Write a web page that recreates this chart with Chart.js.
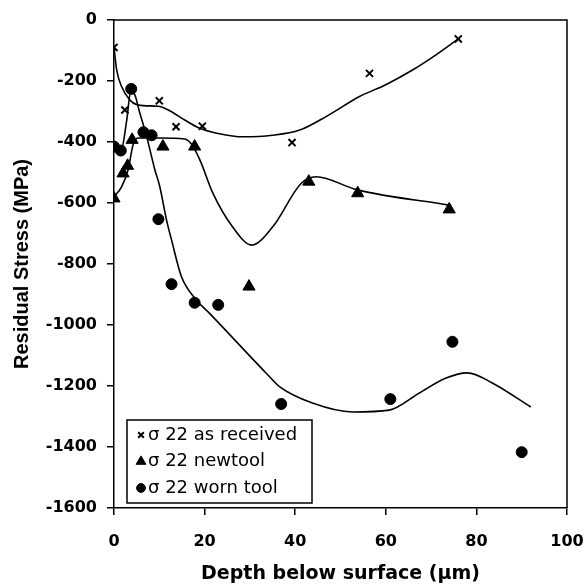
<!DOCTYPE html>
<html><head><meta charset="utf-8">
<script src="https://cdn.jsdelivr.net/npm/chart.js@4/dist/chart.umd.min.js"></script>
<style>html,body{margin:0;padding:0;background:#fff}#wrap{width:587px;height:586px;position:relative}</style>
</head><body><div id="wrap"><canvas id="c" width="587" height="586"></canvas></div>
<script>
// ---- data ----
const xTickValues = [0, 20, 40, 60, 80, 100];
const yTickValues = [0, -200, -400, -600, -800, -1000, -1200, -1400, -1600];
const seriesLabels = ['σ 22 as received', 'σ 22 newtool', 'σ 22 worn tool'];
const xAxisTitle = 'Depth below surface (µm)';
const yAxisTitle = 'Residual Stress (MPa)';

// measured points
const receivedX = [0, 2.4, 10, 13.7, 19.5, 39.3, 56.4, 76];
const receivedY = [-90, -295, -265, -350, -348, -402, -175, -62];
const newToolX = [0, 2, 3, 4, 10.8, 17.8, 29.8, 43, 53.8, 74];
const newToolY = [-585, -503, -478, -393, -415, -415, -874, -530, -568, -621];
const wornToolX = [0, 1.5, 3.8, 6.5, 8.3, 9.8, 12.7, 17.8, 23, 36.9, 61, 74.7, 90];
const wornToolY = [-415, -428, -226, -368, -378, -653, -866, -927, -934, -1259, -1243, -1055, -1417];

// fitted trend curves (traced)
const receivedCurveX = [0, 0.6, 1.7, 3.5, 5.4, 9.7, 12, 15.6, 18.9, 23, 28.5, 35, 41, 47, 54.2, 60, 65.9, 71, 76];
const receivedCurveY = [-90, -164, -219, -262, -279, -283, -295, -328, -355, -372, -383, -378, -361, -315, -251, -212, -164, -115, -62];
const newToolCurveX = [0, 1.7, 3.1, 4.2, 5.3, 10, 15.6, 17, 19, 21.8, 26.2, 30.4, 35, 41.3, 44.6, 53.7, 74];
const newToolCurveY = [-580, -546, -492, -410, -387, -387, -390, -405, -460, -567, -679, -738, -679, -536, -514, -557, -607];
const wornToolCurveX = [0, 1.5, 2.8, 3.7, 4.6, 5.6, 7, 9, 10.1, 11.6, 12.7, 14.9, 18.2, 21.1, 33.6, 36.6, 43.8, 52.6, 60.8, 67.4, 73.3, 78, 83.5, 92];
const wornToolCurveY = [-415, -432, -330, -235, -245, -300, -370, -490, -546, -656, -721, -842, -918, -962, -1158, -1203, -1256, -1285, -1279, -1223, -1174, -1157, -1190, -1269];

// ---- build ----
const pts = (xs, ys) => xs.map((x, i) => ({x, y: ys[i]}));
const curve = (xs, ys) => ({
  data: pts(xs, ys), showLine: true, pointRadius: 0, borderColor: '#000',
  borderWidth: 1.6, cubicInterpolationMode: 'monotone', fill: false, label: ''
});

const framePlugin = {
  id: 'frame',
  afterDatasetsDraw(chart) {
    const {ctx, chartArea: a} = chart;
    ctx.save();
    ctx.strokeStyle = '#000'; ctx.lineWidth = 1.5;
    ctx.beginPath();
    ctx.moveTo(a.left, a.top); ctx.lineTo(a.right, a.top); ctx.lineTo(a.right, a.bottom);
    ctx.stroke();
    ctx.restore();
  }
};

const legendPlugin = {
  id: 'boxLegend',
  afterDraw(chart) {
    const {ctx, chartArea: a} = chart;
    const L = a.left + 13, B = a.bottom - 5, W = 185, H = 83;
    ctx.save();
    ctx.fillStyle = '#fff';
    ctx.fillRect(L, B - H, W, H);
    ctx.strokeStyle = '#000'; ctx.lineWidth = 1.5;
    ctx.strokeRect(L, B - H, W, H);
    [3, 4, 5].forEach((di, i) => {
      const ds = chart.data.datasets[di];
      const y = B - H + 15 + i * 26.5;
      ctx.fillStyle = '#000'; ctx.strokeStyle = '#000'; ctx.lineWidth = ds.borderWidth;
      Chart.helpers.drawPoint(ctx, {pointStyle: ds.pointStyle, radius: ds.pointRadius * 0.8, borderWidth: ds.borderWidth, rotation: 0}, L + 14, y);
      ctx.font = '18px "DejaVu Sans"';
      ctx.textBaseline = 'middle'; ctx.textAlign = 'left';
      ctx.fillText(ds.label, L + 21, y);
    });
    ctx.restore();
  }
};

const tickFont = {family: '"DejaVu Sans"', size: 16, weight: 'bold'};

new Chart(document.getElementById('c'), {
  type: 'scatter',
  data: {
    datasets: [
      curve(receivedCurveX, receivedCurveY),
      curve(newToolCurveX, newToolCurveY),
      curve(wornToolCurveX, wornToolCurveY),
      {label: seriesLabels[0], data: pts(receivedX, receivedY), pointStyle: 'crossRot', pointRadius: 5, borderWidth: 2, borderColor: '#000', backgroundColor: '#000'},
      {label: seriesLabels[1], data: pts(newToolX, newToolY), pointStyle: 'triangle', pointRadius: 7, borderWidth: 1, borderColor: '#000', backgroundColor: '#000'},
      {label: seriesLabels[2], data: pts(wornToolX, wornToolY), pointStyle: 'circle', pointRadius: 5.5, borderWidth: 1, borderColor: '#000', backgroundColor: '#000'}
    ]
  },
  options: {
    responsive: false, animation: false, devicePixelRatio: 1,
    layout: {padding: {top: 20, right: 20, left: 0, bottom: 0}},
    plugins: {legend: {display: false}, tooltip: {enabled: false}},
    scales: {
      x: {
        type: 'linear', min: 0, max: 100,
        afterBuildTicks: s => { s.ticks = xTickValues.map(v => ({value: v})); },
        afterFit: s => { s.height = 78; s.paddingLeft = 0; s.paddingRight = 0; },
        ticks: {font: tickFont, color: '#000', padding: 17, maxRotation: 0, callback: v => String(v)},
        grid: {drawOnChartArea: false, drawTicks: true, tickLength: 7, color: '#000', lineWidth: 1.5},
        border: {color: '#000', width: 1.5},
        title: {display: true, text: xAxisTitle, color: '#000', font: {family: '"DejaVu Sans"', size: 19, weight: 'bold'}, padding: {top: 0, bottom: 1}}
      },
      y: {
        type: 'linear', min: -1600, max: 0,
        afterBuildTicks: s => { s.ticks = yTickValues.map(v => ({value: v})); },
        afterFit: s => { s.width = 114; s.paddingTop = 0; s.paddingBottom = 0; },
        ticks: {font: tickFont, color: '#000', padding: 10, callback: v => String(v)},
        grid: {drawOnChartArea: false, drawTicks: true, tickLength: 7, color: '#000', lineWidth: 1.5},
        border: {color: '#000', width: 1.5},
        title: {display: true, text: yAxisTitle, color: '#000', font: {family: '"Liberation Sans"', size: 20, weight: 'bold'}, padding: {top: 10, bottom: 0}}
      }
    }
  },
  plugins: [framePlugin, legendPlugin]
});
</script>
</body></html>
